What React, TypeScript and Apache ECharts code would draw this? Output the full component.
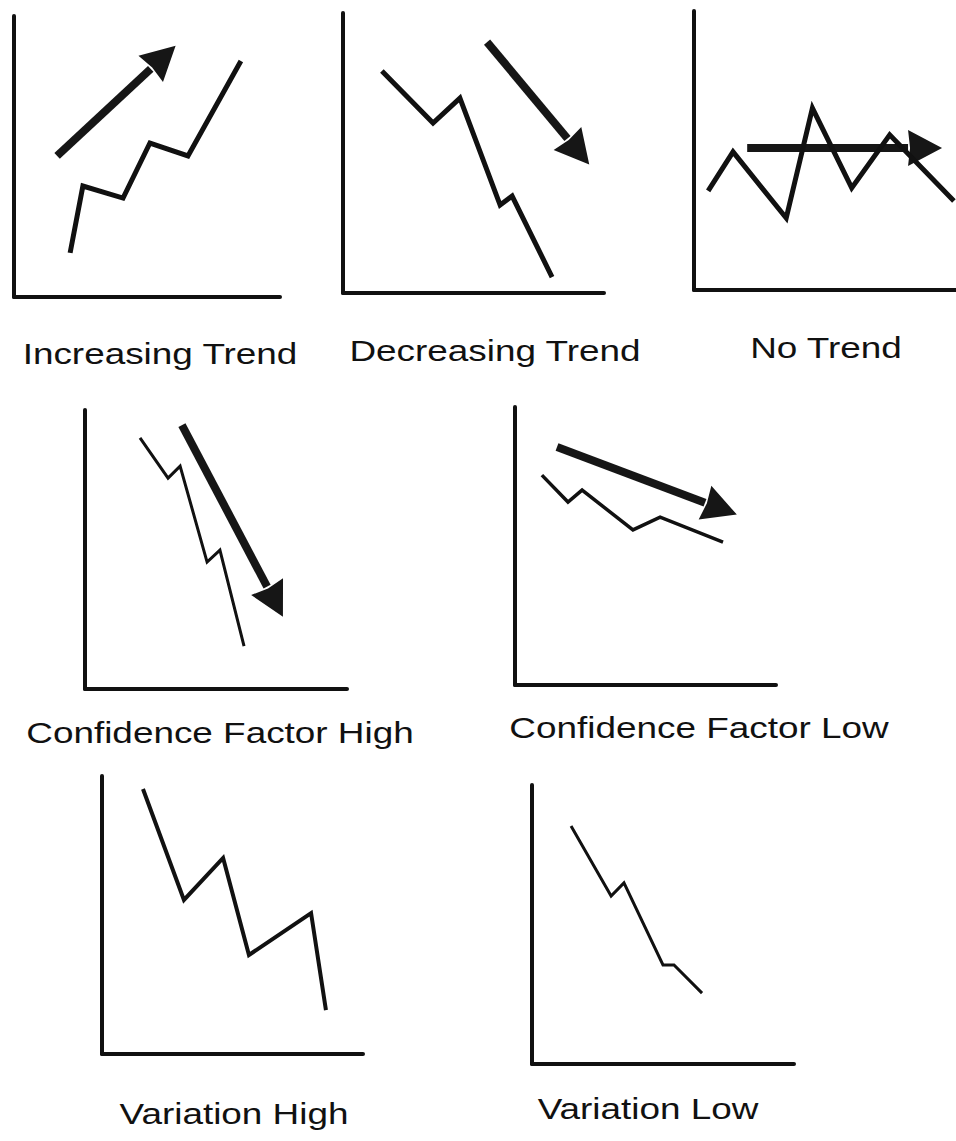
import React, { useEffect, useRef } from "react";
import * as echarts from "echarts";

// ---- data (axis units 0..100 in every panel) ----
const titles = [
  "Increasing Trend",
  "Decreasing Trend",
  "No Trend",
  "Confidence Factor High",
  "Confidence Factor Low",
  "Variation High",
  "Variation Low",
];

const increasingLine = [[21.1, 15.7], [25.9, 39.5], [41.0, 35.2], [51.1, 54.8], [65.4, 50.2], [85.3, 84.0]];
// arrow: [tail, end of shaft (base of head)]
const increasingArrow = [[16.2, 50.2], [51.4, 81.2]];

const decreasingLine = [[14.9, 79.3], [34.5, 60.7], [44.8, 69.6], [60.2, 31.4], [64.8, 34.6], [80.1, 5.7]];
const decreasingArrow = [[55.2, 89.6], [86.0, 55.2]];

const noTrendLine = [[5.4, 35.5], [14.9, 49.5], [35.2, 25.8], [45.2, 65.2], [60.2, 36.6], [74.7, 55.6], [99.2, 31.9]];
const noTrendArrow = [[20.3, 50.9], [81.7, 50.9]];

const confHighLine = [[21.0, 90.0], [31.7, 75.6], [36.3, 79.9], [46.6, 45.5], [51.5, 49.8], [60.7, 15.4]];
const confHighArrow = [[37.0, 94.6], [69.5, 36.7]];

const confLowLine = [[10.3, 75.5], [20.3, 65.8], [25.7, 70.1], [45.2, 55.8], [55.6, 60.4], [79.7, 51.4]];
const confLowArrow = [[16.1, 85.6], [72.8, 65.6]];

const varHighLine = [[15.7, 95.3], [31.4, 55.4], [46.4, 70.5], [56.3, 35.6], [80.1, 50.7], [85.8, 15.8]];

const varLowLine = [[14.9, 85.3], [30.2, 60.2], [35.1, 64.9], [50.0, 35.5], [54.2, 35.5], [64.9, 25.4]];

const panelLines = [increasingLine, decreasingLine, noTrendLine, confHighLine, confLowLine, varHighLine, varLowLine];
const panelArrows = [increasingArrow, decreasingArrow, noTrendArrow, confHighArrow, confLowArrow, null, null];

// ---- layout / style ----
const boxes = [
  { left: 14, top: 16, width: 266, height: 281 },
  { left: 343, top: 13, width: 261, height: 280 },
  { left: 694, top: 11, width: 262, height: 279 },
  { left: 85, top: 410, width: 262, height: 279 },
  { left: 515, top: 407, width: 261, height: 278 },
  { left: 102, top: 776, width: 261, height: 278 },
  { left: 532, top: 785, width: 262, height: 279 },
];
const lineWidths = [5, 5, 5, 3, 3.5, 4, 3];
const titlePos = [
  [160, 354], [495, 351], [826, 348], [220, 733], [699, 728], [234, 1114], [648, 1109],
];
const INK = "#111";
// arrow head (36 wide, 34 long) in a square 68 box whose centre is the head's base,
// so the head starts where the shaft ends
const HEAD = "path://M34,0 L52,34 L34,32 L16,34 Z M0,68 M68,68 M0,0";

export default function App() {
  const ref = useRef<HTMLDivElement>(null);
  useEffect(() => {
    if (!ref.current) return;
    const chart = echarts.init(ref.current, undefined, { renderer: "svg" });
    const grid = boxes.map((b) => ({ ...b }));
    const axisBase = (i: number) => ({
      type: "value" as const,
      gridIndex: i,
      min: 0,
      max: 100,
      axisLine: { show: true, onZero: false, lineStyle: { color: INK, width: 4 } },
      axisTick: { show: false },
      axisLabel: { show: false },
      splitLine: { show: false },
    });
    const xAxis = boxes.map((_, i) => axisBase(i));
    const yAxis = boxes.map((_, i) => axisBase(i));
    const series: any[] = [];
    panelLines.forEach((pts, i) => {
      series.push({
        type: "line",
        xAxisIndex: i,
        yAxisIndex: i,
        data: pts,
        symbol: "none",
        lineStyle: { color: INK, width: lineWidths[i], join: "miter" },
        silent: true,
      });
    });
    panelArrows.forEach((arr, i) => {
      if (!arr) return;
      series.push({
        type: "lines",
        coordinateSystem: "cartesian2d",
        xAxisIndex: i,
        yAxisIndex: i,
        data: [{ coords: arr }],
        symbol: ["none", HEAD],
        symbolSize: 68,
        lineStyle: { color: "#161616", width: 8, opacity: 1, cap: "butt" },
        silent: true,
        z: 3,
      });
    });
    const graphic = titles.map((t, i) => ({
      type: "text",
      x: titlePos[i][0],
      y: titlePos[i][1],
      scaleX: 1.23,
      style: {
        text: t,
        font: '30px "Liberation Sans", Arial, sans-serif',
        fill: INK,
        align: "center",
        verticalAlign: "middle",
      },
    }));
    chart.setOption({
      animation: false,
      backgroundColor: "#fff",
      grid,
      xAxis,
      yAxis,
      series,
      graphic,
    });
    return () => chart.dispose();
  }, []);
  return (
    <div
      ref={ref}
      style={{ position: "absolute", left: 0, top: 0, width: 956, height: 1141, background: "#fff" }}
    />
  );
}
